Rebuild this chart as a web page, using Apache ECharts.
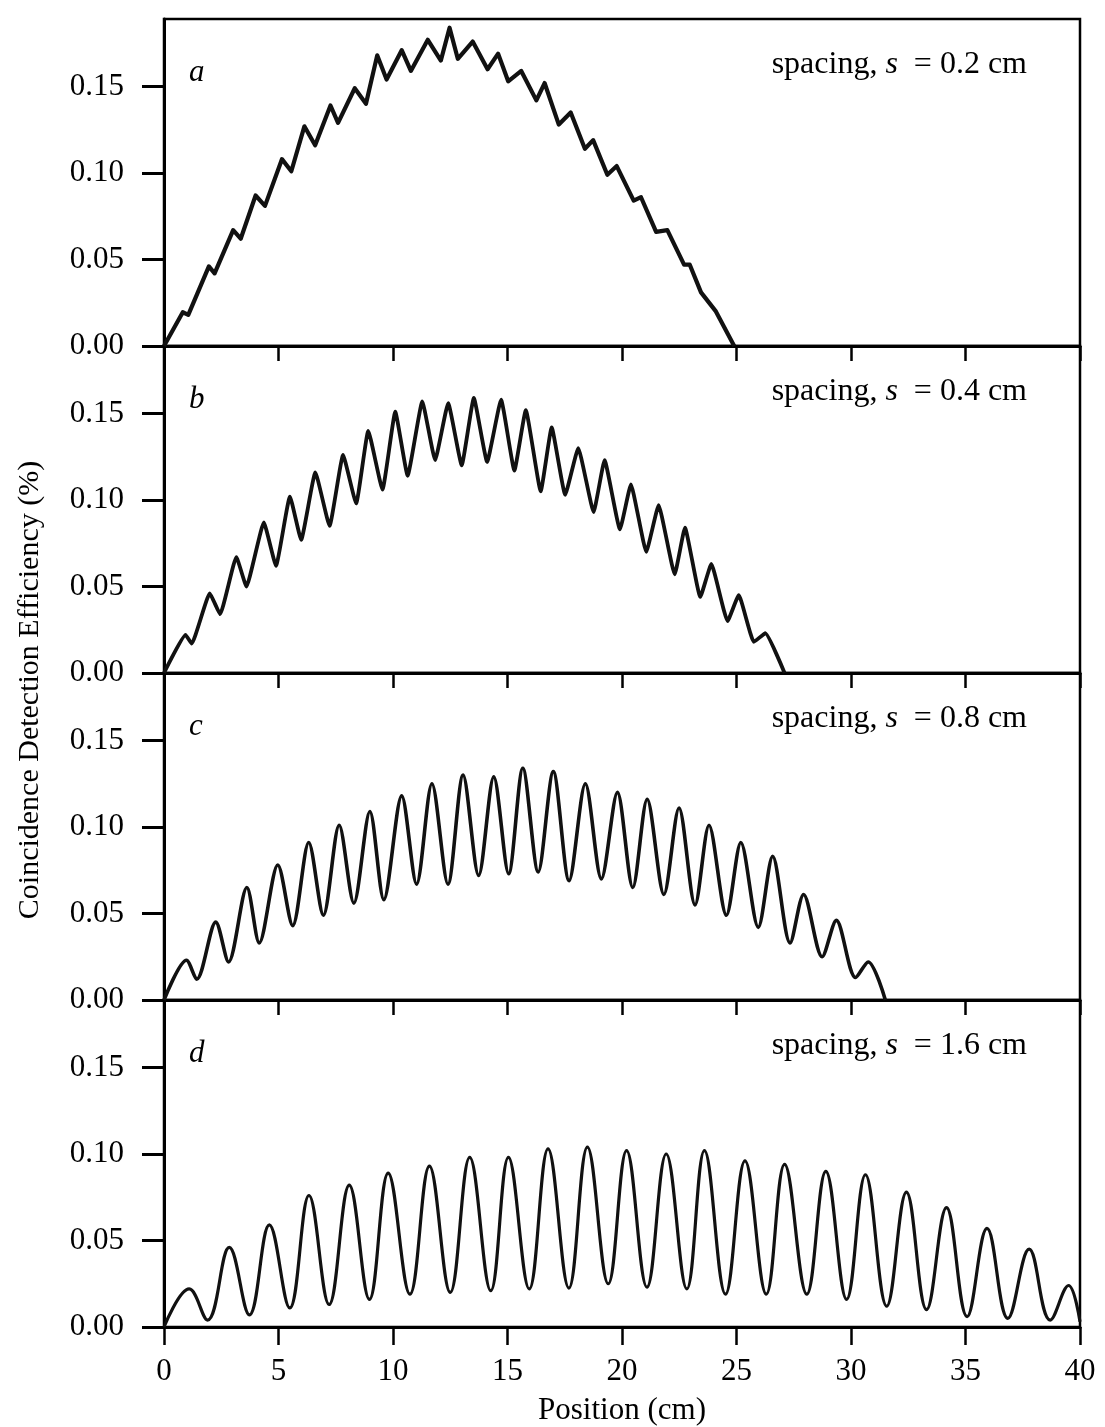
<!DOCTYPE html>
<html>
<head>
<meta charset="utf-8">
<script src="https://cdn.jsdelivr.net/npm/echarts@6/dist/echarts.min.js"></script>
<style>
  html, body { margin: 0; padding: 0; background: #fff; }
  #chart { width: 1105px; height: 1427px; }
</style>
</head>
<body>
<div id="chart"></div>
<script>
// positions (cm) and coincidence efficiency (%)
const posA = [0, 0.82, 1.06, 1.96, 2.21, 3.02, 3.35, 4.0, 4.41, 5.15, 5.56, 6.13, 6.6, 7.27, 7.6, 8.33, 8.82, 9.31, 9.72, 10.38, 10.78, 11.52, 12.09, 12.47, 12.83, 13.48, 14.13, 14.59, 15.03, 15.6, 16.26, 16.62, 17.24, 17.76, 18.38, 18.74, 19.36, 19.77, 20.51, 20.83, 21.49, 21.98, 22.71, 22.96, 23.45, 24.1, 24.9];
const effA = [0, 0.0195, 0.018, 0.046, 0.042, 0.067, 0.062, 0.087, 0.081, 0.108, 0.101, 0.127, 0.116, 0.139, 0.129, 0.149, 0.140, 0.168, 0.154, 0.171, 0.159, 0.177, 0.165, 0.184, 0.166, 0.176, 0.160, 0.169, 0.153, 0.159, 0.142, 0.152, 0.128, 0.135, 0.114, 0.119, 0.099, 0.104, 0.084, 0.086, 0.066, 0.067, 0.047, 0.047, 0.031, 0.020, 0];

const posB = [0, 0.94, 1.21, 2.0, 2.45, 3.16, 3.6, 4.36, 4.89, 5.5, 5.99, 6.61, 7.23, 7.82, 8.39, 8.92, 9.54, 10.1, 10.64, 11.28, 11.84, 12.41, 13.0, 13.53, 14.11, 14.72, 15.3, 15.8, 16.45, 16.93, 17.52, 18.09, 18.76, 19.24, 19.91, 20.39, 21.06, 21.6, 22.3, 22.75, 23.42, 23.9, 24.61, 25.1, 25.76, 26.26, 27.1];
const effB = [0, 0.022, 0.017, 0.046, 0.034, 0.067, 0.050, 0.087, 0.062, 0.102, 0.077, 0.116, 0.085, 0.126, 0.098, 0.140, 0.106, 0.151, 0.114, 0.157, 0.123, 0.156, 0.120, 0.159, 0.122, 0.158, 0.117, 0.152, 0.105, 0.142, 0.103, 0.130, 0.093, 0.123, 0.083, 0.109, 0.070, 0.097, 0.057, 0.084, 0.044, 0.063, 0.030, 0.045, 0.018, 0.023, 0];

const posC = [0, 0.98, 1.43, 2.26, 2.82, 3.62, 4.16, 4.97, 5.62, 6.32, 6.96, 7.65, 8.29, 8.99, 9.6, 10.38, 11.03, 11.7, 12.4, 13.06, 13.74, 14.4, 15.05, 15.67, 16.34, 17.0, 17.69, 18.4, 19.1, 19.8, 20.47, 21.1, 21.83, 22.49, 23.19, 23.8, 24.56, 25.19, 25.95, 26.58, 27.34, 27.93, 28.74, 29.36, 30.2, 30.75, 31.5];
const effC = [0, 0.023, 0.012, 0.045, 0.022, 0.065, 0.033, 0.078, 0.043, 0.091, 0.049, 0.101, 0.056, 0.109, 0.058, 0.118, 0.067, 0.125, 0.067, 0.130, 0.072, 0.129, 0.073, 0.134, 0.074, 0.132, 0.069, 0.125, 0.070, 0.120, 0.065, 0.116, 0.061, 0.111, 0.055, 0.101, 0.049, 0.091, 0.042, 0.083, 0.033, 0.061, 0.025, 0.046, 0.013, 0.022, 0];

const posD = [0, 1.1, 1.9, 2.85, 3.73, 4.6, 5.49, 6.33, 7.21, 8.09, 8.97, 9.79, 10.74, 11.59, 12.5, 13.35, 14.27, 15.04, 15.95, 16.77, 17.68, 18.49, 19.4, 20.2, 21.09, 21.93, 22.83, 23.6, 24.52, 25.37, 26.3, 27.1, 28.07, 28.9, 29.81, 30.63, 31.56, 32.42, 33.3, 34.17, 35.07, 35.94, 36.85, 37.78, 38.7, 39.5, 40];
const effD = [0, 0.022, 0.004, 0.046, 0.007, 0.059, 0.011, 0.076, 0.013, 0.082, 0.016, 0.089, 0.019, 0.093, 0.020, 0.098, 0.021, 0.098, 0.022, 0.103, 0.0225, 0.104, 0.025, 0.102, 0.023, 0.100, 0.022, 0.102, 0.019, 0.096, 0.019, 0.094, 0.019, 0.090, 0.016, 0.088, 0.012, 0.078, 0.010, 0.069, 0.006, 0.057, 0.005, 0.045, 0.004, 0.024, 0.003];

const panelLetters = ['a', 'b', 'c', 'd'];
const spacings = ['0.2', '0.4', '0.8', '1.6'];
const yTicks = [0, 0.05, 0.10, 0.15];
const xTicks = [0, 5, 10, 15, 20, 25, 30, 35, 40];

const FONT = '"Liberation Serif", "DejaVu Serif", serif';

function pairs(pos, eff){
    return pos.map((x, i) => [x, eff[i]]);
}

const panels = [
    {data: pairs(posA, effA), width: 4.2, smooth: false},
    {data: pairs(posB, effB), width: 3.8, smooth: 0.12},
    {data: pairs(posC, effC), width: 3.6, smooth: 0.3},
    {data: pairs(posD, effD), width: 3.2, smooth: 0.4}
];

const TOP = 19, H = 327, LEFT = 164, W = 916;

let grid = [], xAxis = [], yAxis = [], series = [], graphic = [];

panels.forEach((p, i) => {
    let top = TOP + i * H;
    let last = i === panels.length - 1;
    grid.push({
        left: LEFT, top: top, width: W, height: H,
        outerBoundsMode: 'none', containLabel: false,
        show: true, borderColor: '#000', borderWidth: 2.5, backgroundColor: 'transparent'
    });
    xAxis.push({
        type: 'value', gridIndex: i, min: 0, max: 40, interval: 5,
        axisLine: {show: true, onZero: false, lineStyle: {color: '#000', width: 3}},
        axisTick: {show: true, inside: false, length: last ? 18 : 15, lineStyle: {color: '#000', width: 2.5}},
        axisLabel: {show: last, margin: 29, color: '#000', fontSize: 31, fontFamily: FONT,
            customValues: xTicks},
        splitLine: {show: false},
        name: last ? 'Position (cm)' : '',
        nameLocation: 'middle', nameGap: 68, nameMoveOverlap: false,
        nameTextStyle: {color: '#000', fontSize: 31, fontFamily: FONT}
    });
    yAxis.push({
        type: 'value', gridIndex: i, min: 0, max: H / 1730,
        axisLine: {show: true, onZero: false, lineStyle: {color: '#000', width: 3}},
        axisTick: {show: true, inside: false, length: 22, lineStyle: {color: '#000', width: 3},
            customValues: yTicks},
        axisLabel: {margin: 40, color: '#000', fontSize: 31, fontFamily: FONT,
            customValues: yTicks,
            formatter: v => v.toFixed(2)},
        splitLine: {show: false}
    });
    series.push({
        type: 'line', xAxisIndex: i, yAxisIndex: i,
        data: p.data, showSymbol: false, smooth: p.smooth,
        lineStyle: {color: '#111', width: p.width, join: 'round'},
        silent: true, animation: false
    });
    graphic.push({
        type: 'text', left: 189, top: top + 38,
        style: {text: panelLetters[i], font: 'italic 31px ' + FONT, fill: '#000'}
    });
    graphic.push({
        type: 'text', right: 78, top: top + 30,
        style: {
            text: 'spacing, {s|s}  = ' + spacings[i] + ' cm',
            font: '32px ' + FONT, fill: '#000',
            rich: {s: {fontStyle: 'italic', fontSize: 32, fontFamily: FONT, fill: '#000'}}
        }
    });
});

graphic.push({
    type: 'text', x: 30, y: 690, rotation: Math.PI / 2,
    style: {text: 'Coincidence Detection Efficiency (%)', font: '30px ' + FONT, fill: '#000',
        align: 'center', verticalAlign: 'middle'}
});

let myChart = echarts.init(document.getElementById('chart'), null, {renderer: 'canvas'});
myChart.setOption({
    animation: false,
    backgroundColor: '#fff',
    grid: grid,
    xAxis: xAxis,
    yAxis: yAxis,
    series: series,
    graphic: graphic
});
window.addEventListener('resize', function () {
    myChart.resize();
});
</script>
</body>
</html>
